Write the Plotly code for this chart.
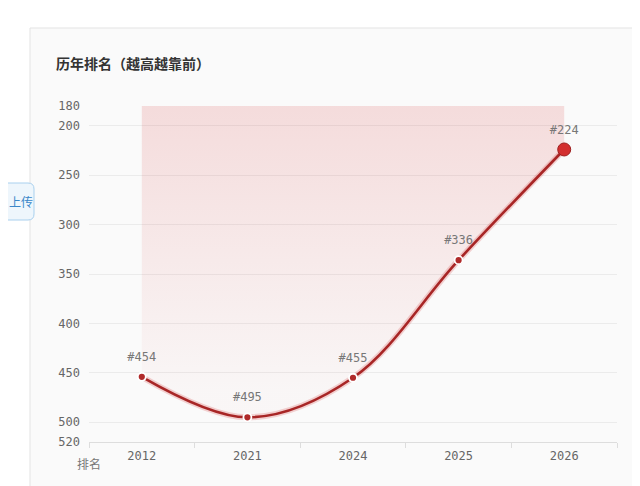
import plotly.graph_objects as go

# 历年排名数据
years = ["2012", "2021", "2024", "2025", "2026"]
ranks = [454, 495, 455, 336, 224]
rank_labels = ["#454", "#495", "#455", "#336", "#224"]
y_ticks = [180, 200, 250, 300, 350, 400, 450, 500, 520]

mono = "DejaVu Sans Mono"
cjk = "Noto Sans CJK SC"
W, H = 640, 486
OFF = 8  # page body margin, positions below are screen pixels minus this


def px(x):
    return (x - OFF) / W


def py(y):
    return (H - (y - OFF)) / H


fig = go.Figure()

# baseline at the top of the reversed axis, area fill goes up to it
fig.add_trace(go.Scatter(
    x=years, y=[y_ticks[0]] * len(years), mode="lines",
    line=dict(width=0, color="rgba(0,0,0,0)"), hoverinfo="skip", showlegend=False
))
fig.add_trace(go.Scatter(
    x=years, y=ranks, mode="lines", fill="tonexty",
    line=dict(width=0, shape="spline", color="rgba(0,0,0,0)"),
    fillgradient=dict(type="vertical", start=180, stop=470,
                      colorscale=[[0, "rgba(215,60,60,0.16)"], [1, "rgba(215,60,60,0.02)"]]),
    hoverinfo="skip", showlegend=False
))

# soft halo under the line
fig.add_trace(go.Scatter(
    x=years, y=ranks, mode="lines",
    line=dict(width=6, shape="spline", color="rgba(214,60,60,0.22)"),
    hoverinfo="skip", showlegend=False
))
fig.add_trace(go.Scatter(
    x=years, y=ranks, mode="lines+markers",
    line=dict(width=2.6, shape="spline", color="#a82626"),
    marker=dict(size=[8, 8, 8, 8, 13],
                color=["#b02a2a"] * 4 + ["#d32f2f"],
                opacity=1,
                line=dict(color=["#ffffff"] * 4 + ["#9e1f1f"], width=[1.8] * 4 + [1])),
    showlegend=False
))

# rank labels above each point (invisible marker just to lift the text)
fig.add_trace(go.Scatter(
    x=years, y=ranks, mode="markers+text",
    marker=dict(size=19, color="rgba(0,0,0,0)"),
    text=rank_labels, textposition="top center",
    textfont=dict(family=mono, size=12, color="#777777"),
    hoverinfo="skip", showlegend=False, cliponaxis=False
))

# upload button at the left edge, rounded on the right side
bx0, bx1, by0, by1, r = -20, 34, 183, 220, 6
upload_path = (
    f"M {px(bx0)},{py(by0)} L {px(bx1 - r)},{py(by0)} Q {px(bx1)},{py(by0)} {px(bx1)},{py(by0 + r)} "
    f"L {px(bx1)},{py(by1 - r)} Q {px(bx1)},{py(by1)} {px(bx1 - r)},{py(by1)} L {px(bx0)},{py(by1)} Z"
)

fig.update_layout(
    width=W, height=H,
    margin=dict(l=0, r=0, t=0, b=0, pad=0),
    paper_bgcolor="#ffffff",
    plot_bgcolor="rgba(0,0,0,0)",
    font=dict(family=mono, size=12, color="#666666"),
    xaxis=dict(
        type="category", range=[-0.5, 4.5],
        domain=[px(89), px(617)], automargin=False,
        showgrid=False, zeroline=False,
        showline=True, linecolor="#dddddd", linewidth=1,
        ticks="outside", tickson="boundaries", ticklen=5, tickcolor="#dddddd",
        ticklabelstandoff=3,
        tickfont=dict(family=mono, size=12, color="#666666"),
    ),
    yaxis=dict(
        range=[520, 180],
        domain=[py(442), py(106)], automargin=False,
        tickvals=y_ticks, ticktext=[str(v) for v in y_ticks],
        showgrid=True, gridcolor="#ebebeb", gridwidth=1,
        zeroline=False, showline=False, ticks="",
        ticklabelstandoff=8,
        tickfont=dict(family=mono, size=12, color="#666666"),
    ),
    shapes=[
        # card background
        dict(type="rect", xref="paper", yref="paper",
             x0=px(30), x1=1.05, y0=-0.05, y1=py(28),
             fillcolor="#fafafa", line=dict(color="#e3e3e3", width=1), layer="below"),
        dict(type="path", xref="paper", yref="paper", path=upload_path,
             fillcolor="#eef6fc", line=dict(color="#a9d0ee", width=1), layer="above"),
    ],
    annotations=[
        dict(text="<b>历年排名（越高越靠前）</b>", xref="paper", yref="paper",
             x=px(54), y=py(63), xanchor="left", yanchor="middle", showarrow=False,
             font=dict(family=cjk, size=14, color="#333333")),
        dict(text="排名", xref="paper", yref="paper",
             x=px(89), y=py(463), xanchor="center", yanchor="middle", showarrow=False,
             font=dict(family=cjk, size=12, color="#777777")),
        dict(text="上传", xref="paper", yref="paper",
             x=px(21), y=py(201), xanchor="center", yanchor="middle", showarrow=False,
             font=dict(family=cjk, size=12, color="#3a86c8")),
    ],
)

fig.write_html("out.html")
